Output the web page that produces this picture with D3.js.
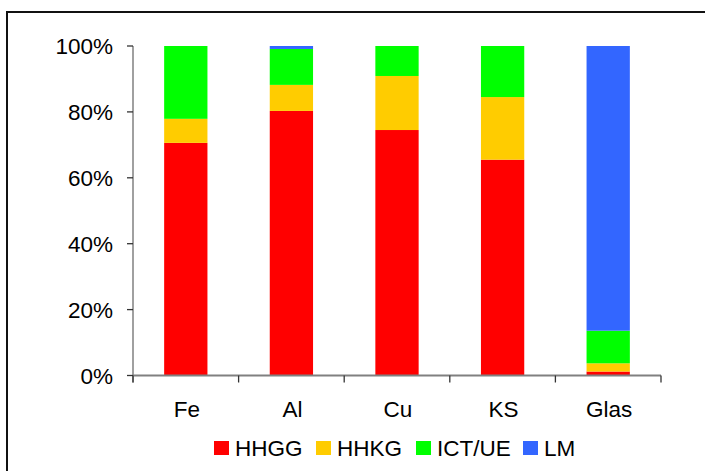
<!DOCTYPE html>
<html>
<head>
<meta charset="utf-8">
<script src="https://cdn.jsdelivr.net/npm/d3@7"></script>
<style>
  html, body { margin: 0; padding: 0; background: #fff; }
  text { font-family: "Liberation Sans", Arial, sans-serif; fill: #000; }
</style>
</head>
<body>
<svg id="chart" width="705" height="471"></svg>
<script>
// Material shares per collection channel (percent of each material)
const categories = ["Fe", "Al", "Cu", "KS", "Glas"];
const seriesNames = ["HHGG", "HHKG", "ICT/UE", "LM"];
const hhgg  = [70.6, 80.3, 74.5, 65.5, 1.2];
const hhkg  = [7.3, 7.9, 16.4, 19.0, 2.5];
const ictue = [22.1, 10.9, 9.1, 15.5, 9.9];
const lm    = [0.0, 0.9, 0.0, 0.0, 86.4];
const colors = ["#FF0000", "#FFCC00", "#00FF00", "#3366FF"];
const yTicks = [0, 20, 40, 60, 80, 100];

const rows = categories.map((c, i) => ({
  cat: c, "HHGG": hhgg[i], "HHKG": hhkg[i], "ICT/UE": ictue[i], "LM": lm[i]
}));
const stacked = d3.stack().keys(seriesNames)(rows);

const svg = d3.select("#chart");
const W = 705, H = 471;
const fontSize = 22.5;

// outer frame
svg.append("rect")
  .attr("x", 7).attr("y", 12)
  .attr("width", W + 10).attr("height", H + 10)
  .attr("fill", "none").attr("stroke", "#111").attr("stroke-width", 2);

const x = d3.scaleBand().domain(categories).range([133, 661])
  .paddingInner(0.59).paddingOuter(0.295);
const y = d3.scaleLinear().domain([0, 100]).range([375.5, 46]);

// bars
svg.append("g").selectAll("g").data(stacked).join("g")
  .attr("fill", (d, i) => colors[i])
  .selectAll("rect").data(d => d).join("rect")
  .attr("x", d => x(d.data.cat))
  .attr("width", x.bandwidth())
  .attr("y", d => y(d[1]))
  .attr("height", d => Math.max(0, y(d[0]) - y(d[1])));

// y axis
const axisColor = "#808080";
svg.append("line")
  .attr("x1", 133).attr("x2", 133)
  .attr("y1", y(100)).attr("y2", y(0) + 7)
  .attr("stroke", axisColor).attr("stroke-width", 1.5);
const yg = svg.append("g");
yg.selectAll("line").data(yTicks).join("line")
  .attr("x1", 127).attr("x2", 133)
  .attr("y1", d => y(d)).attr("y2", d => y(d))
  .attr("stroke", "#333").attr("stroke-width", 1.3);
yg.selectAll("text").data(yTicks).join("text")
  .attr("x", 113).attr("y", d => y(d))
  .attr("dy", "0.36em")
  .attr("text-anchor", "end")
  .attr("font-size", fontSize)
  .text(d => d + "%");

// x axis
svg.append("line")
  .attr("x1", 133).attr("x2", 661)
  .attr("y1", y(0)).attr("y2", y(0))
  .attr("stroke", axisColor).attr("stroke-width", 2);
const bounds = d3.range(categories.length + 1).map(i => x.range()[0] + i * x.step());
svg.append("g").selectAll("line").data(bounds).join("line")
  .attr("x1", d => d).attr("x2", d => d)
  .attr("y1", y(0)).attr("y2", y(0) + 7)
  .attr("stroke", "#333").attr("stroke-width", 1.3);
svg.append("g").selectAll("text").data(categories).join("text")
  .attr("x", d => x(d) + x.bandwidth() / 2 + 1)
  .attr("y", 417)
  .attr("text-anchor", "middle")
  .attr("font-size", fontSize)
  .text(d => d);

// legend
const legendX = [214, 316, 416, 523];
const lg = svg.append("g").selectAll("g").data(seriesNames).join("g")
  .attr("transform", (d, i) => `translate(${legendX[i]},441)`);
lg.append("rect").attr("width", 15).attr("height", 14)
  .attr("fill", (d, i) => colors[i]);
lg.append("text").attr("x", 21).attr("y", 14.5)
  .attr("font-size", fontSize)
  .text(d => d);
</script>
</body>
</html>
